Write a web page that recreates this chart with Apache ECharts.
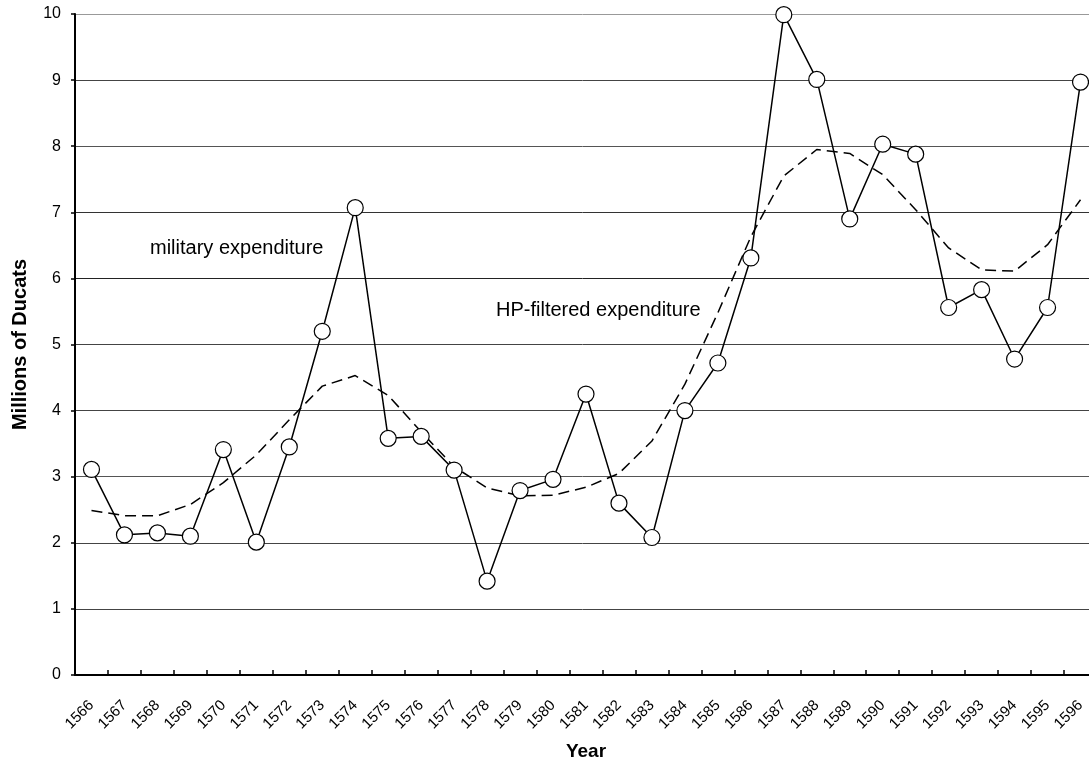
<!DOCTYPE html>
<html>
<head>
<meta charset="utf-8">
<script src="https://cdn.jsdelivr.net/npm/echarts@6/dist/echarts.min.js"></script>
<style>
  html, body { margin: 0; padding: 0; background: #fff; }
  #chart { width: 1089px; height: 763px; }
</style>
</head>
<body>
<div id="chart"></div>
<script>
// years on the x axis
const years = ['1566', '1567', '1568', '1569', '1570', '1571', '1572', '1573', '1574', '1575',
  '1576', '1577', '1578', '1579', '1580', '1581', '1582', '1583', '1584', '1585',
  '1586', '1587', '1588', '1589', '1590', '1591', '1592', '1593', '1594', '1595', '1596'];

// military expenditure, millions of ducats
const military = [3.11, 2.12, 2.15, 2.10, 3.41, 2.01, 3.45, 5.20, 7.07, 3.58,
  3.61, 3.10, 1.42, 2.79, 2.96, 4.25, 2.60, 2.08, 4.00, 4.72,
  6.31, 9.99, 9.01, 6.90, 8.03, 7.88, 5.56, 5.83, 4.78, 5.56, 8.97];

// HP-filtered trend
const hpFiltered = [2.49, 2.41, 2.41, 2.58, 2.91, 3.33, 3.86, 4.37, 4.53, 4.23,
  3.68, 3.15, 2.83, 2.71, 2.72, 2.84, 3.05, 3.54, 4.40, 5.48,
  6.63, 7.55, 7.95, 7.89, 7.57, 7.04, 6.46, 6.13, 6.11, 6.51, 7.19];

const yTicks = [0, 10, 1]; // min, max, interval

const font = 'Liberation Sans, Arial, Helvetica, sans-serif';

const myChart = echarts.init(document.getElementById('chart'));
myChart.setOption({
  animation: false,
  textStyle: { fontFamily: font },
  grid: {
    left: 75,
    right: -8,
    top: 14,
    bottom: 88,
    containLabel: false,
    outerBoundsMode: 'none'
  },
  xAxis: {
    type: 'category',
    data: years,
    boundaryGap: true,
    name: 'Year',
    nameLocation: 'middle',
    nameGap: 67,
    nameTextStyle: { fontSize: 19, fontWeight: 'bold', color: '#000', fontFamily: font },
    axisLine: { lineStyle: { color: '#000', width: 2 } },
    axisTick: { show: true, inside: true, length: 5, alignWithLabel: false, lineStyle: { color: '#000', width: 1.5 } },
    axisLabel: { rotate: 45, margin: 28, fontSize: 15, color: '#000', interval: 0, fontFamily: font },
    splitLine: { show: false }
  },
  yAxis: {
    type: 'value',
    min: yTicks[0],
    max: yTicks[1],
    interval: yTicks[2],
    name: 'Millions of Ducats',
    nameLocation: 'middle',
    nameGap: 45,
    nameTextStyle: { fontSize: 20, fontWeight: 'bold', color: '#000', fontFamily: font },
    axisLine: { show: true, lineStyle: { color: '#000', width: 2 } },
    axisTick: { show: true, length: 4, lineStyle: { color: '#000', width: 1.5 } },
    axisLabel: { margin: 14, fontSize: 16, color: '#000', fontFamily: font },
    splitLine: {
      show: true,
      lineStyle: {
        width: 1,
        color: ['#333', '#444', '#444', '#555', '#444', '#444', '#222', '#333', '#555', '#444', '#999']
      }
    }
  },
  series: [
    {
      name: 'HP-filtered expenditure',
      type: 'line',
      data: hpFiltered,
      symbol: 'none',
      smooth: false,
      z: 2,
      lineStyle: { color: '#000', width: 1.5, type: [11, 6] }
    },
    {
      name: 'military expenditure',
      type: 'line',
      data: military,
      symbol: 'circle',
      symbolSize: 16,
      z: 3,
      lineStyle: { color: '#000', width: 1.5 },
      itemStyle: { color: '#fff', borderColor: '#000', borderWidth: 1.2 }
    }
  ],
  graphic: [
    {
      type: 'text',
      x: 150,
      y: 248,
      style: { text: 'military expenditure', fontSize: 20, fill: '#000', fontFamily: font, verticalAlign: 'middle' }
    },
    {
      type: 'text',
      x: 496,
      y: 310,
      style: { text: 'HP-filtered expenditure', fontSize: 20, fill: '#000', fontFamily: font, verticalAlign: 'middle' }
    }
  ]
});
</script>
</body>
</html>
